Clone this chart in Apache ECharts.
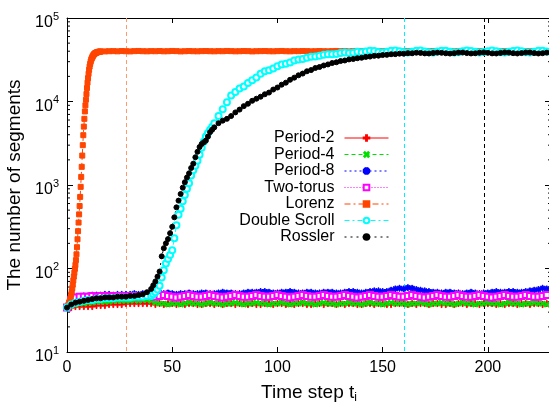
<!DOCTYPE html>
<html>
<head>
<meta charset="utf-8">
<title>The number of segments</title>
<script src="https://cdn.jsdelivr.net/npm/echarts@6/dist/echarts.min.js"></script>
<style>
    html, body { margin: 0; padding: 0; background: #fff; }
    #chart { width: 549px; height: 408px; }
</style>
</head>
<body>
<div id="chart"></div>
<script>
// 时间步 t_i
var steps = [
    0, 2, 4, 6, 8, 10, 12, 14, 16, 18,
    20, 22, 24, 26, 28, 30, 32, 34, 36, 38,
    40, 42, 44, 46, 48, 50, 52, 54, 56, 58,
    60, 62, 64, 66, 68, 70, 72, 74, 76, 78,
    80, 82, 84, 86, 88, 90, 92, 94, 96, 98,
    100, 102, 104, 106, 108, 110, 112, 114, 116, 118,
    120, 122, 124, 126, 128, 130, 132, 134, 136, 138,
    140, 142, 144, 146, 148, 150, 152, 154, 156, 158,
    160, 162, 164, 166, 168, 170, 172, 174, 176, 178,
    180, 182, 184, 186, 188, 190, 192, 194, 196, 198,
    200, 202, 204, 206, 208, 210, 212, 214, 216, 218,
    220, 222, 224, 226, 228
];
var period2 = [
    34, 34, 35, 35, 35, 35, 35, 36, 36, 36,
    37, 37, 37, 37, 38, 38, 38, 38, 38, 38,
    38, 37, 38, 37, 38, 38, 37, 38, 37, 38,
    38, 37, 37, 38, 38, 37, 38, 37, 38, 38,
    37, 38, 38, 37, 38, 37, 37, 38, 38, 37,
    38, 38, 37, 38, 37, 38, 38, 37, 37, 38,
    38, 37, 38, 38, 37, 38, 37, 38, 38, 37,
    37, 38, 38, 37, 38, 38, 37, 37, 38, 38,
    38, 37, 38, 37, 38, 38, 37, 38, 38, 37,
    37, 38, 37, 38, 38, 37, 38, 38, 37, 38,
    38, 38, 37, 38, 37, 38, 38, 37, 38, 38,
    37, 38, 38, 37, 38
];
var period4 = [
    34, 36, 37, 38, 38, 39, 39, 40, 40, 40,
    40, 41, 41, 41, 41, 41, 42, 41, 42, 42,
    41, 39, 38, 38, 37, 38, 38, 37, 38, 39,
    38, 38, 37, 38, 39, 38, 38, 37, 38, 38,
    39, 38, 37, 38, 38, 39, 38, 38, 37, 38,
    38, 39, 38, 37, 38, 38, 39, 38, 38, 37,
    38, 39, 38, 38, 37, 38, 38, 39, 38, 38,
    37, 38, 39, 38, 38, 37, 38, 39, 38, 38,
    38, 37, 38, 38, 39, 38, 37, 38, 38, 39,
    38, 38, 37, 38, 39, 38, 38, 37, 38, 38,
    39, 38, 38, 37, 38, 39, 38, 38, 37, 38,
    38, 39, 38, 38, 37
];
var period8 = [
    34, 40, 44, 46, 47, 47, 48, 48, 48, 49,
    49, 48, 49, 49, 49, 49, 50, 49, 50, 50,
    50, 51, 51, 50, 51, 50, 49, 50, 50, 51,
    50, 50, 51, 51, 50, 50, 51, 52, 51, 51,
    50, 50, 51, 52, 52, 52, 53, 53, 52, 51,
    51, 52, 52, 53, 52, 51, 51, 52, 52, 51,
    51, 52, 52, 52, 51, 51, 52, 53, 53, 52,
    51, 52, 53, 54, 54, 53, 53, 55, 57, 58,
    57, 59, 58, 56, 55, 54, 53, 52, 52, 51,
    52, 52, 51, 51, 50, 51, 52, 51, 50, 51,
    51, 52, 53, 52, 52, 53, 53, 52, 52, 53,
    54, 55, 56, 58, 57
];
var twoTorus = [
    34, 42, 45, 46, 46, 46, 47, 46, 47, 47,
    46, 47, 47, 47, 46, 47, 47, 46, 47, 47,
    47, 46, 47, 48, 47, 46, 45, 46, 47, 48,
    47, 46, 46, 47, 48, 47, 46, 45, 46, 47,
    48, 47, 46, 46, 47, 48, 47, 46, 46, 47,
    48, 47, 46, 45, 46, 47, 48, 47, 46, 46,
    47, 48, 47, 46, 46, 47, 48, 47, 46, 45,
    46, 47, 48, 47, 46, 46, 47, 48, 47, 46,
    46, 47, 48, 47, 46, 45, 46, 47, 48, 47,
    46, 46, 47, 48, 47, 46, 46, 47, 48, 47,
    46, 45, 46, 47, 48, 47, 46, 46, 47, 48,
    47, 46, 46, 47, 48
];
var lorenz = [
    34, 48, 105, 730, 4700, 18000, 32000, 38500, 39500, 39800,
    40000, 40100, 39900, 40200, 40000, 39800, 40100, 40300, 40000, 39900,
    40100, 40000, 40200, 39900, 40000, 40300, 40100, 39800, 40000, 40200,
    40000, 39900, 40100, 40200, 40000, 39900, 40100, 40000, 40300, 40100,
    39900, 40000, 40200, 40100, 39800, 40000, 40100, 40200, 40000, 39900,
    40100, 40300, 40000, 39900, 40100, 40000, 40200, 40100, 39900, 40000,
    40200, 40000, 39900, 40100, 40300, 40000, 40100, 39800, 40000, 40200,
    40100, 39900, 40000, 40200, 40100, 40000, 39900, 40100, 40300, 40000,
    39900, 40100, 40000, 40200, 40000, 39800, 40100, 40200, 40000, 40100,
    40000, 40200, 39900, 40000, 40100, 40300, 40000, 39900, 40100, 40000,
    40200, 40100, 39900, 40000, 40200, 40000, 40100, 39800, 40000, 40100,
    40000, 40200, 40100, 39900, 40000
];
// Lorenz 初始陡升段（更细的时间步）
var lorenzEarlySteps = [
    0, 0.25, 0.5, 0.75, 1, 1.25, 1.5, 1.75,
    2, 2.25, 2.5, 2.75, 3, 3.25, 3.5, 3.75,
    4, 4.25, 4.5, 4.75, 5, 5.25, 5.5, 5.75,
    6, 6.25, 6.5, 6.75, 7, 7.25, 7.5, 7.75,
    8, 8.25, 8.5, 8.75, 9, 9.25, 9.5, 9.75,
    10, 10.25, 10.5, 10.75, 11, 11.25, 11.5, 11.75,
    12, 12.25, 12.5, 12.75, 13, 13.25, 13.5, 13.75,
    14, 14.25, 14.5, 14.75, 15, 15.25, 15.5, 15.75,
    16
];
var lorenzEarly = [
    34, 35, 36, 37, 39, 40, 42, 45,
    49, 53, 58, 64, 72, 80, 89, 99,
    110, 126, 148, 180, 224, 280, 355, 445,
    560, 720, 950, 1250, 1650, 2250, 3000, 3950,
    5000, 6200, 7600, 9000, 10500, 12300, 14500, 16800,
    19000, 21500, 24000, 26200, 28200, 30000, 31600, 32800,
    33900, 34800, 35800, 36500, 37100, 37600, 38000, 38300,
    38500, 38800, 39000, 39200, 39300, 39400, 39500, 39600,
    39700
];
var doubleScroll = [
    34, 37, 39, 40, 41, 42, 42, 43, 43, 44,
    44, 44, 45, 45, 45, 45, 46, 46, 46, 47,
    47, 52, 62, 95, 130, 165, 330, 520, 760, 1050,
    1500, 1950, 2800, 3800, 4600, 5500, 6700, 8100, 9800, 11800,
    13000, 14300, 15100, 16600, 18000, 19400, 21500, 23000, 23600, 24800,
    26500, 27800, 28300, 29400, 31000, 31800, 32300, 33500, 34400, 34600,
    35400, 36300, 36900, 36700, 37000, 38000, 38600, 38200, 38300, 39300,
    39000, 39800, 40600, 40200, 39200, 38600, 39400, 40400, 40800, 39900,
    38900, 38600, 39500, 40500, 40700, 39700, 38800, 38700, 39700, 40600,
    40500, 39500, 38600, 38900, 39900, 40700, 40300, 39300, 38500, 39100,
    40100, 40700, 40000, 39000, 38500, 39300, 40300, 40700, 39900, 38900,
    38600, 39500, 40500, 40600, 39600
];
var rossler = [
    34, 37, 39, 40, 41, 42, 43, 44, 44, 45,
    45, 45, 46, 46, 46, 47, 47, 48, 49, 52,
    57, 70, 92, 175, 225, 316, 540, 780, 1080, 1380,
    1800, 2500, 3100, 3400, 4300, 4900, 5500, 5900, 6200, 6700,
    7400, 8000, 8800, 9400, 10200, 10800, 11400, 12200, 12800, 13900,
    14700, 15900, 16800, 18200, 19300, 20600, 21600, 23000, 23800, 25200,
    25900, 27000, 27800, 28900, 29500, 30500, 31000, 31900, 32300, 33000,
    33400, 34200, 34500, 35200, 35400, 36000, 36200, 36800, 36900, 37400,
    37400, 37900, 37800, 38400, 38200, 37700, 37600, 38100, 38500, 38300,
    37800, 37500, 37900, 38500, 38600, 38000, 37600, 37800, 38400, 38700,
    38300, 37700, 37600, 38200, 38700, 38500, 37900, 37600, 38000, 38600,
    38600, 38000, 37600, 37900, 38500
];
// Double Scroll / Rossler 上升段的奇数时间步
var riseSteps = [41, 43, 45, 47, 49, 51, 53, 55, 57, 59, 61, 63, 65, 67, 69];
var doubleScrollRise = [49, 56, 78, 115, 145, 230, 440, 640, 900, 1300, 1700, 2300, 3300, 4200, 5000];
var rosslerRise = [63, 80, 140, 200, 265, 410, 650, 930, 1230, 1600, 2150, 2850, 3250, 3800, 4600];
// 竖直虚线位置: Lorenz, Double Scroll, Rossler
var markTimes = [28, 160, 198];
// 对数轴次刻度
var minorTicks = [
    20, 30, 40, 50, 60, 70, 80, 90,
    200, 300, 400, 500, 600, 700, 800, 900,
    2000, 3000, 4000, 5000, 6000, 7000, 8000, 9000,
    20000, 30000, 40000, 50000, 60000, 70000, 80000, 90000
];

(function () {
    var myChart = echarts.init(document.getElementById('chart'));
    var font = 'Liberation Sans, Arial, Helvetica, sans-serif';
    var plusPath = 'path://M4.2,0H5.8V4.2H10V5.8H5.8V10H4.2V5.8H0V4.2H4.2Z';
    var starPath = 'path://M4.3,0H5.7V4.3H10V5.7H5.7V10H4.3V5.7H0V4.3H4.3Z M1,2L2,1L9,8L8,9Z M8,1L9,2L2,9L1,8Z';
    // 竖线颜色，与 markTimes 一一对应
    var markColors = ['#ff9a6c', '#00f0ff', '#000000'];

    function pairs(ts, vals) {
        return ts.map(function (t, i) { return [t, vals[i]]; });
    }
    // 合并两组数据点并按时间排序
    function merged(tsA, valsA, tsB, valsB, keepA) {
        var p = pairs(tsA, valsA).filter(keepA || function () { return true; });
        p = p.concat(pairs(tsB, valsB));
        p.sort(function (a, b) { return a[0] - b[0]; });
        return p;
    }
    function line(name, data, color, symbol, size, dash, opts) {
        var s = {
            name: name,
            type: 'line',
            data: data,
            color: color,
            showSymbol: true,
            showAllSymbol: true,
            symbol: symbol,
            symbolSize: size,
            lineStyle: { color: color, width: 1, type: dash },
            itemStyle: { color: color, borderColor: color, borderWidth: 1 },
            emphasis: { disabled: true },
            animation: false
        };
        for (var k in opts) s[k] = opts[k];
        return s;
    }

    var names = ['Period-2', 'Period-4', 'Period-8', 'Two-torus', 'Lorenz', 'Double Scroll', 'Rossler'];

    var yLabel = {
        fontFamily: font,
        color: '#000',
        margin: 8,
        formatter: function (v) {
            return '{b|10}{s|' + Math.round(Math.log(v) / Math.LN10) + '}';
        },
        rich: {
            b: { fontSize: 16, fontFamily: font, color: '#000', padding: [10, 0, 0, 0], verticalAlign: 'bottom' },
            s: { fontSize: 11, fontFamily: font, color: '#000', padding: [0, 0, 9, 0], verticalAlign: 'bottom' }
        }
    };

    var option = {
        backgroundColor: '#fff',
        animation: false,
        grid: {
            left: 67,
            right: -2,
            top: 18,
            bottom: 56,
            containLabel: false,
            outerBoundsMode: 'none'
        },
        legend: {
            data: names,
            orient: 'vertical',
            align: 'right',
            right: 155,
            top: 125,
            itemWidth: 44,
            itemHeight: 7,
            itemGap: 0.5,
            selectedMode: false,
            lineStyle: { width: 1 },
            textStyle: { fontSize: 16, fontFamily: font, color: '#000', padding: [0, 5, 0, 0] }
        },
        xAxis: [
            {
                type: 'value',
                min: 0,
                max: 230,
                interval: 50,
                position: 'bottom',
                name: '{m|Time step t}{sub|i}',
                nameLocation: 'middle',
                nameGap: 31,
                nameTextStyle: {
                    rich: {
                        m: { fontSize: 19, fontFamily: font, color: '#000', verticalAlign: 'top' },
                        sub: { fontSize: 12, fontFamily: font, color: '#000', verticalAlign: 'top', padding: [9, 0, 0, 0] }
                    }
                },
                axisLine: { onZero: false, lineStyle: { color: '#000', width: 1 } },
                axisTick: { inside: true, length: 5, lineStyle: { color: '#000' } },
                axisLabel: { fontSize: 16, fontFamily: font, color: '#000', margin: 8, showMaxLabel: false },
                splitLine: { show: false }
            },
            {
                type: 'value',
                min: 0,
                max: 230,
                interval: 50,
                position: 'top',
                axisLine: { onZero: false, lineStyle: { color: '#000', width: 1 } },
                axisTick: { inside: true, length: 5, lineStyle: { color: '#000' } },
                axisLabel: { show: false },
                splitLine: { show: false }
            }
        ],
        yAxis: [
            {
                type: 'log',
                logBase: 10,
                min: 10,
                max: 100000,
                position: 'left',
                name: 'The number of segments',
                nameLocation: 'middle',
                nameGap: 25,
                nameTextStyle: { fontSize: 19, fontFamily: font, color: '#000' },
                axisLine: { show: true, onZero: false, lineStyle: { color: '#000', width: 1 } },
                axisTick: { show: true, inside: true, length: 6, lineStyle: { color: '#000' } },
                axisLabel: yLabel,
                splitLine: { show: false }
            },
            {
                type: 'log',
                logBase: 10,
                min: 10,
                max: 100000,
                position: 'right',
                axisLine: { show: true, onZero: false, lineStyle: { color: '#000', width: 1 } },
                axisTick: { show: true, inside: true, length: 6, lineStyle: { color: '#000' } },
                axisLabel: { show: false },
                splitLine: { show: false }
            }
        ],
        series: [
            {
                // 竖直虚线
                type: 'custom',
                silent: true,
                animation: false,
                z: 1,
                data: markTimes.map(function (t, i) { return [t, 10, i]; }),
                renderItem: function (params, api) {
                    var x = Math.round(api.coord([api.value(0), 10])[0]) + 0.5;
                    var cs = params.coordSys;
                    return {
                        type: 'line',
                        shape: { x1: x, y1: cs.y, x2: x, y2: cs.y + cs.height },
                        style: { stroke: markColors[api.value(2)], lineWidth: 1, lineDash: [4, 3] }
                    };
                }
            },
            line('Period-2', pairs(steps, period2), '#ff0000', plusPath, 6, 'solid'),
            line('Period-4', pairs(steps, period4), '#00e000', plusPath, 6, [4, 3], { symbolRotate: 45 }),
            line('Period-8', pairs(steps, period8), '#0000ff', starPath, 6, [2, 3]),
            line('Two-torus', pairs(steps, twoTorus), '#ff00ff', 'emptyRect', 6, [1, 2]),
            line('Lorenz', merged(steps, lorenz, lorenzEarlySteps, lorenzEarly, function (p) { return p[0] > 16; }),
                '#ff4500', 'rect', 5, [6, 3, 2, 3]),
            line('Double Scroll', merged(steps, doubleScroll, riseSteps, doubleScrollRise),
                '#00ffff', 'emptyCircle', 6, [5, 3, 2, 3]),
            line('Rossler', merged(steps, rossler, riseSteps, rosslerRise),
                '#000000', 'circle', 5, [2, 4]),
            {
                // 对数轴次刻度（左右两侧）
                type: 'custom',
                silent: true,
                animation: false,
                data: minorTicks.map(function (v) { return [0, v]; }),
                renderItem: function (params, api) {
                    var y = api.coord([0, api.value(1)])[1];
                    var x0 = params.coordSys.x;
                    var x1 = x0 + params.coordSys.width;
                    return {
                        type: 'group',
                        children: [
                            { type: 'line', shape: { x1: x0, y1: y, x2: x0 + 3, y2: y }, style: { stroke: '#000', lineWidth: 1 } },
                            { type: 'line', shape: { x1: x1 - 3, y1: y, x2: x1, y2: y }, style: { stroke: '#000', lineWidth: 1 } }
                        ]
                    };
                }
            }
        ]
    };
    myChart.setOption(option);
    window.addEventListener('resize', function () {
        myChart.resize();
    });
})();
</script>
</body>
</html>
